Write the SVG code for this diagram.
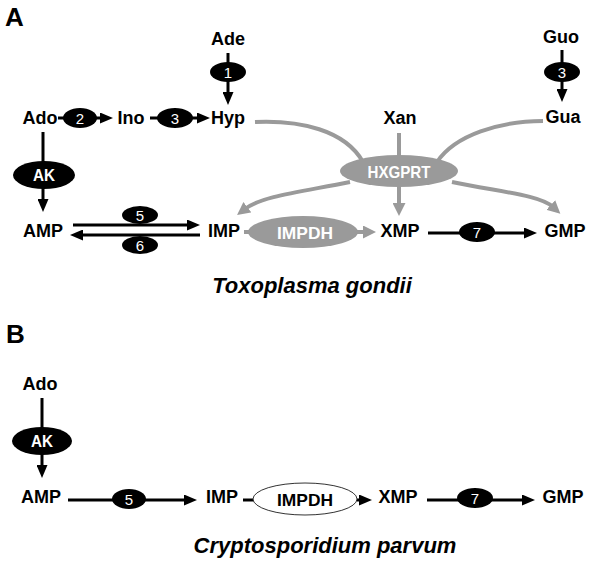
<svg xmlns="http://www.w3.org/2000/svg" width="593" height="564" viewBox="0 0 593 564">
<style>
.lbl{font-family:"Liberation Sans",Arial,sans-serif;font-weight:bold;font-size:18px;fill:#000;text-anchor:middle}
.pan{font-family:"Liberation Sans",Arial,sans-serif;font-weight:bold;font-size:26px;fill:#000}
.ttl{font-family:"Liberation Sans",Arial,sans-serif;font-weight:bold;font-style:italic;font-size:22px;fill:#000;text-anchor:middle}
.enz{fill:#000}
.genz{fill:#9a9a9a}
.wenz{fill:#fff;stroke:#333;stroke-width:1}
.num{font-family:"Liberation Sans",Arial,sans-serif;font-size:15px;fill:#fff;text-anchor:middle}
.et{font-family:"Liberation Sans",Arial,sans-serif;font-weight:bold;font-size:17px;fill:#fff;text-anchor:middle}
.etb{font-family:"Liberation Sans",Arial,sans-serif;font-weight:bold;font-size:17px;fill:#000;text-anchor:middle}
.bk{stroke:#000;stroke-width:3;fill:none}
.gr{stroke:#9a9a9a;stroke-width:4;fill:none}
.bka{stroke:#000;stroke-width:3;fill:none;marker-end:url(#ab)}
.gra{stroke:#9a9a9a;stroke-width:4;fill:none;marker-end:url(#ag)}
</style>
<defs>
<marker id="ab" markerUnits="userSpaceOnUse" markerWidth="13" markerHeight="11" refX="3" refY="5.5" orient="auto"><path d="M0,0 L13,5.5 L0,11 z" fill="#000"/></marker>
<marker id="ag" markerUnits="userSpaceOnUse" markerWidth="13" markerHeight="13" refX="3" refY="6.5" orient="auto"><path d="M0,0 L13,6.5 L0,13 z" fill="#9a9a9a"/></marker>
</defs>
<rect width="593" height="564" fill="#fff"/>

<text class="pan" x="5" y="26">A</text>
<text class="pan" x="6" y="343">B</text>

<g id="connectors">
<path class="bka" d="M228,53 L228,95"/>
<path class="bka" d="M58,118 L103,118"/>
<path class="bka" d="M150,118 L200,118"/>
<path class="bka" d="M562,50 L562,92"/>
<path class="bka" d="M43,132 L43,202"/>
<path class="bka" d="M73,225 L190,225"/>
<path class="bka" d="M200,235 L80,235"/>
<path class="gr" d="M244,232 L256,232"/>
<path class="gra" d="M355,232 L366,232"/>
<path class="bka" d="M428,233 L527,233"/>
<path class="gr" d="M255,122 C300,120 345,130 363,162"/>
<path class="gr" d="M399,133 L399,160"/>
<path class="gr" d="M543,121 C500,121 455,135 437,162"/>
<path class="gra" d="M350,182 C300,192 262,196 245,209"/>
<path class="gra" d="M399,186 L399,206"/>
<path class="gra" d="M452,182 C500,192 540,195 553,207"/>
<path class="bka" d="M42,398 L42,468"/>
<path class="bka" d="M68,500 L187,500"/>
<path class="bk" d="M243,500 L254,500"/>
<path class="bka" d="M357,500 L362,500"/>
<path class="bka" d="M427,500 L525,500"/>
</g>

<g id="a-ade"><text class="lbl" x="228" y="45">Ade</text></g>
<g id="a-ado"><text class="lbl" x="40" y="124">Ado</text></g>
<g id="a-ino"><text class="lbl" x="131" y="124">Ino</text></g>
<g id="a-hyp"><text class="lbl" x="228" y="124">Hyp</text></g>
<g id="a-xan"><text class="lbl" x="400" y="124">Xan</text></g>
<g id="a-guo"><text class="lbl" x="561" y="43">Guo</text></g>
<g id="a-gua"><text class="lbl" x="563" y="123">Gua</text></g>
<g id="a-amp"><text class="lbl" x="43" y="237">AMP</text></g>
<g id="a-imp"><text class="lbl" x="224" y="237">IMP</text></g>
<g id="a-xmp"><text class="lbl" x="400" y="237">XMP</text></g>
<g id="a-gmp"><text class="lbl" x="565" y="237">GMP</text></g>

<g id="a-e1"><ellipse class="enz" cx="228" cy="72" rx="18" ry="10"/><text class="num" x="228" y="77.5">1</text></g>
<g id="a-e2"><ellipse class="enz" cx="80" cy="118" rx="17" ry="10"/><text class="num" x="80" y="123.5">2</text></g>
<g id="a-e3"><ellipse class="enz" cx="175" cy="118" rx="18" ry="10"/><text class="num" x="175" y="123.5">3</text></g>
<g id="a-e3b"><ellipse class="enz" cx="562" cy="72" rx="18" ry="10"/><text class="num" x="562" y="77.5">3</text></g>
<g id="a-ak"><ellipse class="enz" cx="44" cy="175" rx="31" ry="14"/><text class="et" x="44" y="181" textLength="22" lengthAdjust="spacingAndGlyphs">AK</text></g>
<g id="a-e5"><ellipse class="enz" cx="140" cy="215" rx="18" ry="9"/><text class="num" x="140" y="220.5">5</text></g>
<g id="a-e6"><ellipse class="enz" cx="140" cy="245" rx="18" ry="9"/><text class="num" x="140" y="250.5">6</text></g>
<g id="a-e7"><ellipse class="enz" cx="477" cy="232" rx="18" ry="10"/><text class="num" x="477" y="237.5">7</text></g>
<g id="a-hxgprt"><ellipse class="genz" cx="399" cy="171" rx="59" ry="16"/><text class="et" x="399" y="178" textLength="63" lengthAdjust="spacingAndGlyphs">HXGPRT</text></g>
<g id="a-impdh"><ellipse class="genz" cx="303" cy="232" rx="55" ry="16"/><text class="et" x="305" y="239" textLength="56" lengthAdjust="spacingAndGlyphs">IMPDH</text></g>
<g id="a-title"><text class="ttl" x="312" y="293">Toxoplasma gondii</text></g>

<g id="b-ado"><text class="lbl" x="40" y="390">Ado</text></g>
<g id="b-amp"><text class="lbl" x="41" y="503">AMP</text></g>
<g id="b-imp"><text class="lbl" x="222" y="503">IMP</text></g>
<g id="b-xmp"><text class="lbl" x="398" y="503">XMP</text></g>
<g id="b-gmp"><text class="lbl" x="563" y="503">GMP</text></g>
<g id="b-ak"><ellipse class="enz" cx="42" cy="441" rx="30" ry="14"/><text class="et" x="42" y="447" textLength="22" lengthAdjust="spacingAndGlyphs">AK</text></g>
<g id="b-e5"><ellipse class="enz" cx="129" cy="499" rx="17" ry="10"/><text class="num" x="129" y="504.5">5</text></g>
<g id="b-impdh"><ellipse class="wenz" cx="305" cy="499" rx="52" ry="16"/><text class="etb" x="305" y="506" textLength="56" lengthAdjust="spacingAndGlyphs">IMPDH</text></g>
<g id="b-e7"><ellipse class="enz" cx="475" cy="498" rx="18" ry="10"/><text class="num" x="475" y="503.5">7</text></g>
<g id="b-title"><text class="ttl" x="325" y="553">Cryptosporidium parvum</text></g>
</svg>
